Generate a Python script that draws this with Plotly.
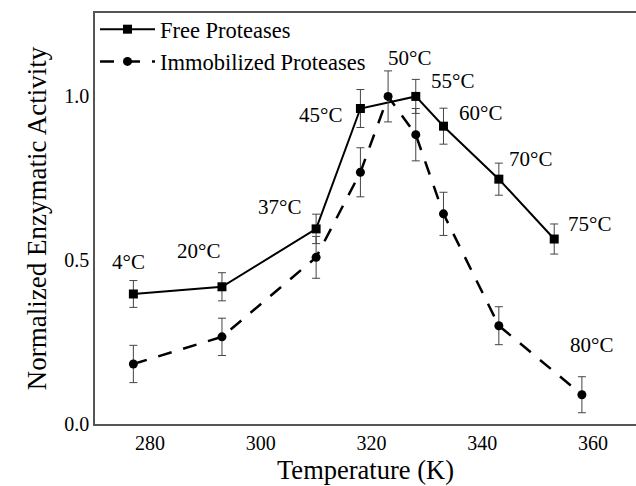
import plotly.graph_objects as go

# Data
temp_free = [277, 293, 310, 318, 328, 333, 343, 353]
act_free = [0.396, 0.418, 0.595, 0.963, 1.000, 0.909, 0.747, 0.564]
err_free = [0.041, 0.043, 0.045, 0.058, 0.052, 0.055, 0.049, 0.046]

temp_imm = [277, 293, 310, 318, 323, 328, 333, 343, 358]
act_imm = [0.182, 0.265, 0.508, 0.768, 1.000, 0.883, 0.641, 0.299, 0.088]
err_imm = [0.057, 0.057, 0.064, 0.075, 0.078, 0.080, 0.066, 0.058, 0.055]

# label text, series, temperature
labels = [
    ("4°C", "free", 277), ("20°C", "free", 293), ("37°C", "free", 310),
    ("45°C", "free", 318), ("50°C", "imm", 323), ("55°C", "free", 328),
    ("60°C", "free", 333), ("70°C", "free", 343), ("75°C", "free", 353),
    ("80°C", "imm", 358),
]
label_shift = {
    "4°C": (-5, 32), "20°C": (-23, 36), "37°C": (-37, 22), "45°C": (-40, -6),
    "50°C": (21, 38), "55°C": (37, 15), "60°C": (37, 13), "70°C": (32, 20),
    "75°C": (35, 15), "80°C": (10, 50),
}

FONT = "Liberation Serif"

fig = go.Figure()
fig.add_trace(go.Scatter(
    x=temp_free, y=act_free, name="Free Proteases", mode="lines+markers",
    line=dict(color="black", width=2),
    marker=dict(symbol="square", size=9, color="black"),
    error_y=dict(type="data", array=err_free, color="#444", thickness=1, width=4),
))
fig.add_trace(go.Scatter(
    x=temp_imm, y=act_imm, name="Immobilized Proteases", mode="lines+markers",
    line=dict(color="black", width=2.5, dash="14px,12px"),
    marker=dict(symbol="circle", size=9, color="black"),
    error_y=dict(type="data", array=err_imm, color="#444", thickness=1, width=4),
))

series = {"free": (temp_free, act_free), "imm": (temp_imm, act_imm)}
for text, s, t in labels:
    xs, ys = series[s]
    y = ys[xs.index(t)]
    dx, dy = label_shift[text]
    fig.add_annotation(x=t, y=y, text=text, showarrow=False, xshift=dx, yshift=dy,
                       font=dict(family=FONT, size=21, color="black"))

fig.update_layout(
    width=636, height=486, autosize=False,
    margin=dict(l=95, r=0, t=13, b=62),
    paper_bgcolor="white", plot_bgcolor="white",
    font=dict(family=FONT, color="black"),
    showlegend=True,
    legend=dict(x=0.0, y=1.012, xanchor="left", yanchor="top",
                bgcolor="rgba(0,0,0,0)", font=dict(family=FONT, size=22.5, color="black"),
                tracegroupgap=0, itemwidth=55),
    xaxis=dict(range=[270.07, 367.77], tickvals=[280, 300, 320, 340, 360],
               showgrid=False, zeroline=False, showline=True, mirror=True,
               linecolor="#555", linewidth=1.5, ticks="",
               tickfont=dict(family=FONT, size=20, color="black"),
               title=dict(text="Temperature (K)", font=dict(family=FONT, size=26.5, color="black"), standoff=8)),
    yaxis=dict(range=[-0.0015, 1.255], tickvals=[0.0, 0.5, 1.0], tickformat=".1f",
               showgrid=False, zeroline=False, showline=True, mirror=False,
               linecolor="#555", linewidth=1.5, ticks="",
               tickfont=dict(family=FONT, size=20, color="black"),
               title=dict(text="Normalized Enzymatic Activity", font=dict(family=FONT, size=27, color="black"), standoff=10)),
)

fig.write_html("out.html")
